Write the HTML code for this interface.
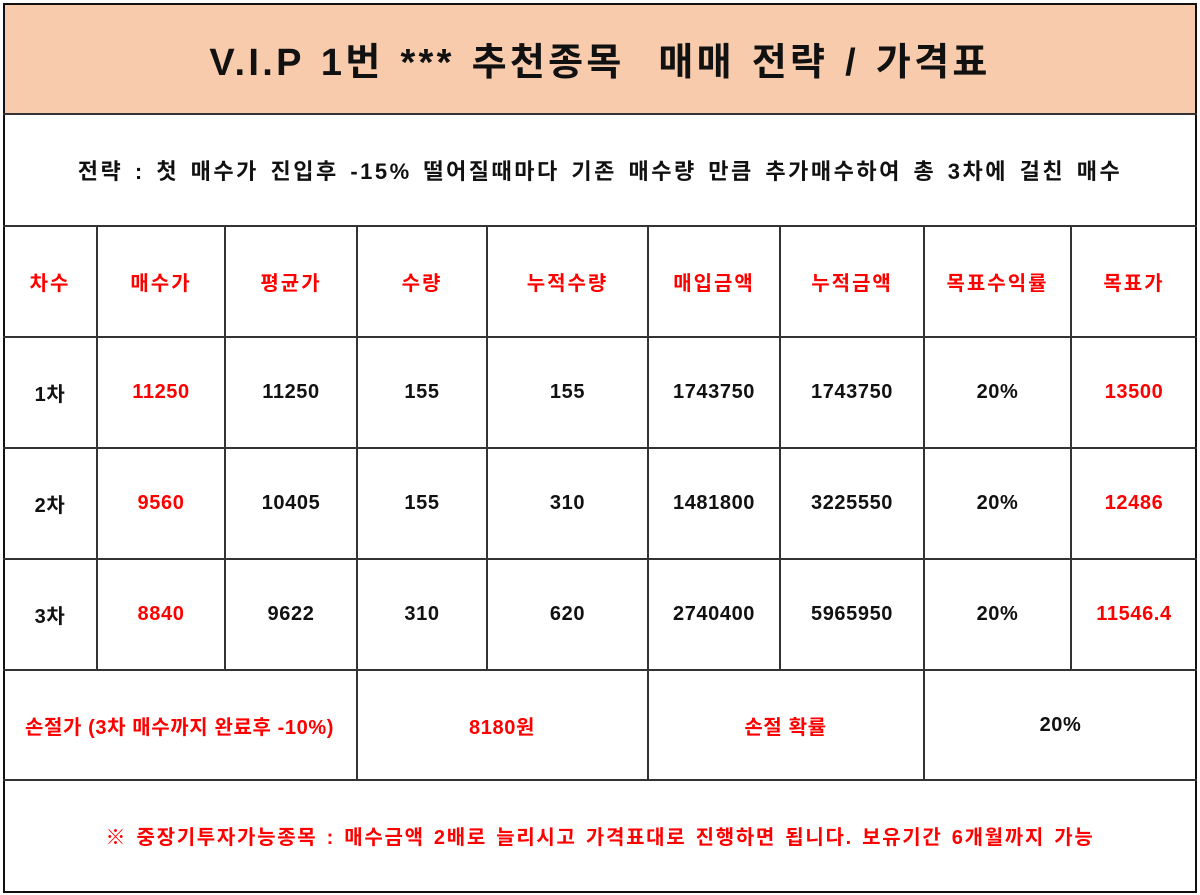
<!DOCTYPE html>
<html><head><meta charset="utf-8"><style>
body{margin:0;width:1200px;height:895px;background:#fff;position:relative;overflow:hidden;font-family:"Liberation Sans","Noto Sans CJK KR",sans-serif;font-weight:bold}
.h{position:absolute;height:1.5px;background:#333}
.v{position:absolute;width:1.5px;background:#333}
.t{position:absolute;display:flex;align-items:center;justify-content:center;font-size:20px;letter-spacing:0.6px;color:#111;white-space:nowrap}
.r{color:#f00}
</style></head><body>
<div style="position:absolute;left:3px;top:3px;width:1192px;height:111px;background:#F8CBAD"></div>
<div style="position:absolute;left:3px;top:3px;width:1190px;height:886px;border:2px solid #111"></div>
<div class="h" style="left:3px;width:1194px;top:113px"></div>
<div class="h" style="left:3px;width:1194px;top:225px"></div>
<div class="h" style="left:3px;width:1194px;top:336px"></div>
<div class="h" style="left:3px;width:1194px;top:447px"></div>
<div class="h" style="left:3px;width:1194px;top:558px"></div>
<div class="h" style="left:3px;width:1194px;top:669px"></div>
<div class="h" style="left:3px;width:1194px;top:779px"></div>
<div class="v" style="left:96px;top:225px;height:445px"></div>
<div class="v" style="left:224px;top:225px;height:445px"></div>
<div class="v" style="left:356px;top:225px;height:555px"></div>
<div class="v" style="left:486px;top:225px;height:445px"></div>
<div class="v" style="left:647px;top:225px;height:555px"></div>
<div class="v" style="left:779px;top:225px;height:445px"></div>
<div class="v" style="left:923px;top:225px;height:555px"></div>
<div class="v" style="left:1070px;top:225px;height:445px"></div>
<div class="t" style="left:3px;width:1194px;top:3px;height:111px;font-size:38px;letter-spacing:3.3px;word-spacing:3px">V.I.P 1번 *** 추천종목&nbsp; 매매 전략 / 가격표</div>
<div class="t" style="left:3px;width:1194px;top:114px;height:111px;font-size:22px;letter-spacing:2.5px;word-spacing:3px">전략 : 첫 매수가 진입후 -15% 떨어질때마다 기존 매수량 만큼 추가매수하여 총 3차에 걸친 매수</div>
<div id="g"></div>
<div class="t r" style="left:3px;width:353px;top:670px;height:110px">손절가 (3차 매수까지 완료후 -10%)</div>
<div class="t r" style="left:357px;width:290px;top:670px;height:110px">8180원</div>
<div class="t r" style="left:648px;width:275px;top:670px;height:110px">손절 확률</div>
<div class="t" style="left:924px;width:273px;top:670px;height:110px">20%</div>
<div class="t r" style="left:3px;width:1194px;top:780px;height:111px;letter-spacing:1.7px;word-spacing:2px">※ 중장기투자가능종목 : 매수금액 2배로 늘리시고 가격표대로 진행하면 됩니다. 보유기간 6개월까지 가능</div>
<script>
var xs=[3,97,225,357,487,648,780,924,1071,1197],ys=[226,337,448,559];
var rows=[["차수","매수가","평균가","수량","누적수량","매입금액","누적금액","목표수익률","목표가"],
["1차","11250","11250","155","155","1743750","1743750","20%","13500"],
["2차","9560","10405","155","310","1481800","3225550","20%","12486"],
["3차","8840","9622","310","620","2740400","5965950","20%","11546.4"]];
var h="";
rows.forEach(function(r,i){r.forEach(function(c,j){var red=i==0||j==1||j==8;
h+='<div class="t'+(red?' r':'')+'" style="left:'+xs[j]+'px;width:'+(xs[j+1]-xs[j])+'px;top:'+ys[i]+'px;height:110px'+(i==0?';letter-spacing:2px':'')+'">'+c+'</div>';});});
document.getElementById("g").innerHTML=h;
</script>
</body></html>
